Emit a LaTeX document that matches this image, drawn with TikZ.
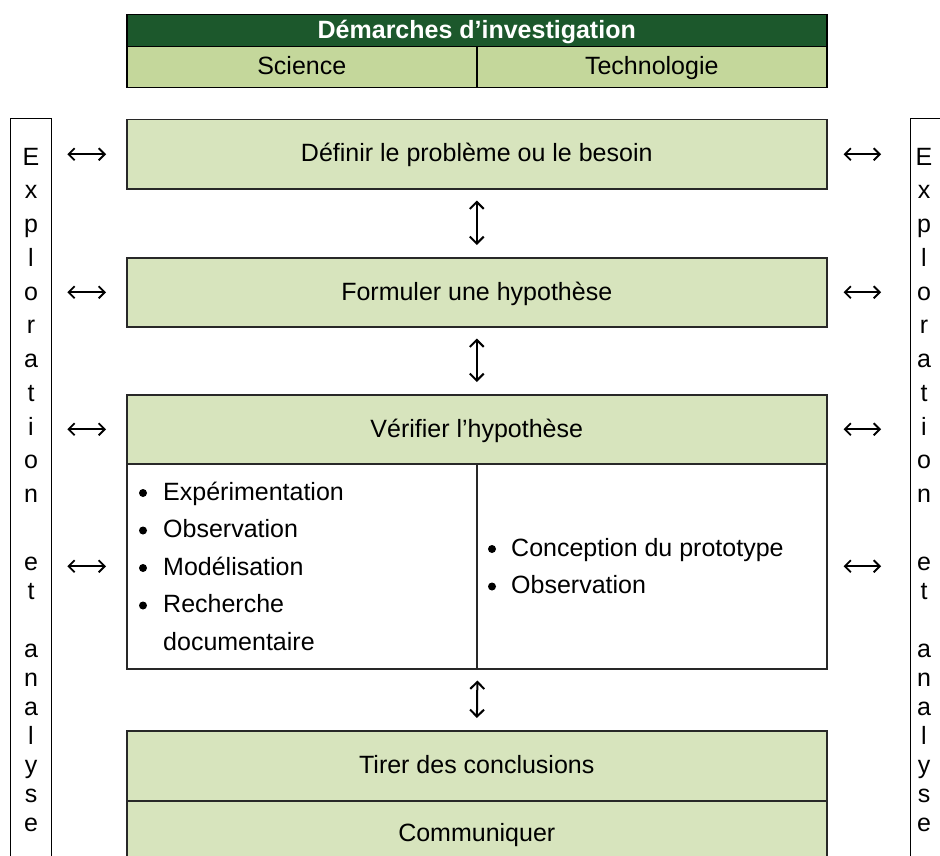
\documentclass[tikz,border=0pt]{standalone}
\usepackage{fontspec}
\setmainfont{Liberation Sans}
\usetikzlibrary{arrows.meta}
\definecolor{hdark}{RGB}{28,88,44}
\definecolor{hlight}{RGB}{196,215,155}
\definecolor{boxg}{RGB}{215,228,189}
\definecolor{bordergray}{RGB}{40,40,40}
\begin{document}
\begin{tikzpicture}[x=1pt,y=-1pt,
  txt/.style={font=\fontsize{25}{30}\selectfont},
  ctxt/.style={txt, text height=19.5pt, text depth=4pt},
  cell/.style={draw=black, line width=1.5pt, anchor=north west, inner sep=0pt, ctxt},
  gbox/.style={draw=bordergray, line width=1.5pt, fill=boxg, anchor=north west, inner sep=0pt, minimum width=700pt, minimum height=69pt, ctxt},
  wbox/.style={draw=bordergray, line width=1.5pt, fill=white, anchor=north west, inner sep=0pt, minimum width=350pt, minimum height=205pt},
  colbox/.style={anchor=north west, inner sep=0pt, minimum width=41pt, minimum height=760pt},
  colline/.style={draw=black, line width=1pt},
  letter/.style={txt, anchor=base, inner sep=0pt},
  item/.style={txt, anchor=base west, inner sep=0pt},
  bul/.style={circle, fill=black, inner sep=0pt, minimum size=8pt},
  harr/.style={line width=1.8pt, {Straight Barb[length=6pt,width=12pt]}-{Straight Barb[length=6pt,width=12pt]}},
  varr/.style={line width=2pt, {Straight Barb[length=7pt,width=14pt]}-{Straight Barb[length=7pt,width=14pt]}, shorten <=11pt, shorten >=12pt}
]
\useasboundingbox (0,0) rectangle (940,856);
\clip (0,0) rectangle (940,856);

% header
\node[cell, fill=hdark, minimum width=700pt, minimum height=32pt] (title) at (126,14)
  {\bfseries\color{white}Démarches d’investigation};
\node[cell, fill=hlight, minimum width=350pt, minimum height=41pt] (sci) at (126,46) {Science};
\node[cell, fill=hlight, minimum width=350pt, minimum height=41pt] (tech) at (476,46) {Technologie};

% main boxes
\node[gbox] (b1) at (126,119) {Définir le problème ou le besoin};
\node[gbox] (b2) at (126,257) {Formuler une hypothèse};
\node[gbox] (vh) at (126,394) {Vérifier l’hypothèse};
\node[wbox] (vl) at (126,463) {};
\node[wbox] (vr) at (476,463) {};
\node[gbox, minimum height=70pt] (tc) at (126,730) {Tirer des conclusions};
\node[gbox, minimum height=66pt] (com) at (126,800) {Communiquer};

% list items
\foreach \t/\y [count=\i] in {Expérimentation/493, Observation/530.5, Modélisation/568, Recherche/605.5} {
  \node[bul] (lb\i) at (143,\y) {};
  \node[item] (li\i) at (163,\y+7) {\t};
}
\node[item] (li5) at (163,650) {documentaire};
\node[bul] (rb1) at (492,549) {};
\node[item] (ri1) at (511,556) {Conception du prototype};
\node[bul] (rb2) at (492,586.5) {};
\node[item] (ri2) at (511,593.5) {Observation};

% side columns
\node[colbox] (lcol) at (10,119) {};
\node[colbox] (rcol) at (910,119) {};
\draw[colline] (lcol.south west) -- (lcol.north west) -- (lcol.north east) -- (lcol.south east);
\draw[colline] (rcol.south west) -- (rcol.north west) -- (rcol.north east);

\foreach \l/\y [count=\i] in {E/158, x/191.75, p/225.5, l/259.25, o/293, r/326.75, a/360.5, t/394.25, i/428, o/461.75, n/495.5, e/563, t/592, a/650, n/679, a/708, l/737, y/766, s/795, e/824} {
  \node[letter] (ll\i) at (31,\y+7) {\l};
  \node[letter] (rl\i) at (924,\y+7) {\l};
}

% horizontal arrows
\foreach \b in {b1,b2,vh,vl} {
  \draw[harr, shorten <=16pt, shorten >=20pt] (lcol.east |- \b.west) -- (\b.west);
}
\foreach \b in {b1,b2,vh,vr} {
  \draw[harr, shorten <=16pt, shorten >=29pt] (\b.east) -- (rcol.west |- \b.east);
}

% vertical arrows
\draw[varr] (b1.south) -- (b2.north);
\draw[varr] (b2.south) -- (vh.north);
\draw[varr] (vl.south east) -- (tc.north);
\end{tikzpicture}
\end{document}
